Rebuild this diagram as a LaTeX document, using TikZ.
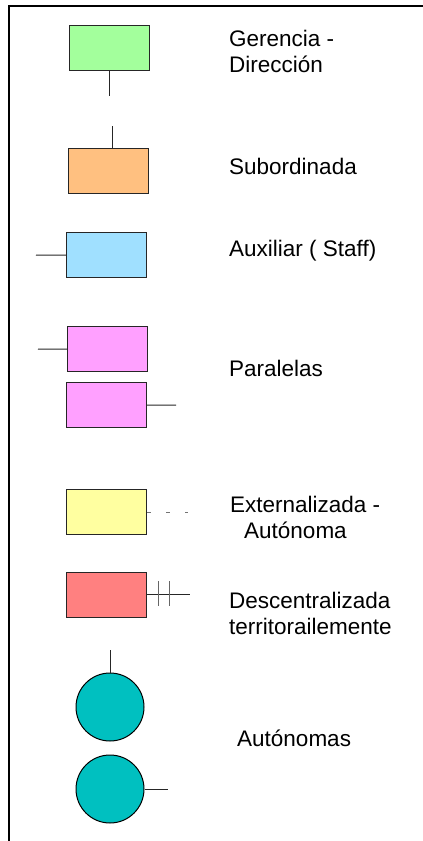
\documentclass[tikz,border=0pt]{standalone}
\usepackage{fontspec}
\setmainfont{Liberation Sans}
\begin{document}
\begin{tikzpicture}[x=1pt,y=-1pt,
  unitbox/.style={draw=black!85,line width=1.2pt,minimum width=80pt,minimum height=45pt,inner sep=0pt,anchor=north west},
  unitcirc/.style={circle,draw=black,line width=1pt,minimum size=68pt,inner sep=0pt},
  conn/.style={draw=black!85,line width=1pt},
  label/.style={anchor=base west,inner sep=0pt,font=\fontsize{22.5}{26}\selectfont,text=black},
  frame/.style={draw=black,line width=2pt}]
\useasboundingbox (0,0) rectangle (423,841);
% frame
\coordinate (fA) at (9,841);
\coordinate (fB) at (9,6);
\coordinate (fC) at (423,6);
\draw[frame] (fA) -- (fB) -- (fC);
% boxes
\node[unitbox,fill={rgb,255:red,163;green,255;blue,156}] (ger) at (69,25) {};
\node[unitbox,fill={rgb,255:red,255;green,192;blue,128}] (sub) at (68,148) {};
\node[unitbox,fill={rgb,255:red,160;green,224;blue,255}] (aux) at (66,232) {};
\node[unitbox,fill={rgb,255:red,255;green,160;blue,255}] (par1) at (67,326) {};
\node[unitbox,fill={rgb,255:red,255;green,160;blue,255}] (par2) at (66,382) {};
\node[unitbox,fill={rgb,255:red,255;green,255;blue,160}] (ext) at (66,489) {};
\node[unitbox,fill={rgb,255:red,255;green,128;blue,128}] (des) at (66,572) {};
\node[unitcirc,fill={rgb,255:red,0;green,192;blue,192}] (aut1) at (110,707) {};
\node[unitcirc,fill={rgb,255:red,0;green,192;blue,192}] (aut2) at (110,789) {};
% connector ends
\coordinate (gerE) at (109,96);
\coordinate (subE) at (112,126);
\coordinate (auxE) at (36,255);
\coordinate (par1E) at (38,349);
\coordinate (par2E) at (176,405);
\coordinate (extE) at (188,512);
\coordinate (desE) at (190,594);
\coordinate (aut1E) at (110,650);
\coordinate (aut2E) at (168,789);
\coordinate (tk1a) at (158,581); \coordinate (tk1b) at (158,606);
\coordinate (tk2a) at (169,581); \coordinate (tk2b) at (169,606);
% connectors
\draw[conn] (ger.south -| gerE) -- (gerE);
\draw[conn] (sub.north -| subE) -- (subE);
\draw[conn] (aux.west) -- (auxE);
\draw[conn] (par1.west) -- (par1E);
\draw[conn] (par2.east) -- (par2E);
\draw[conn,draw=black!55,dash pattern=on 4pt off 15pt] (ext.east |- extE) -- (extE);
\draw[conn] (des.east |- desE) -- (desE);
\draw[conn,draw=black!60] (tk1a) -- (tk1b);
\draw[conn,draw=black!60] (tk2a) -- (tk2b);
\draw[conn] (aut1.north) -- (aut1E);
\draw[conn] (aut2.east) -- (aut2E);
% labels
\node[label] (tger1) at (229,46) {Gerencia -};
\node[label] (tger2) at (229,72) {Dirección};
\node[label] (tsub) at (229,174) {Subordinada};
\node[label] (taux) at (229,256) {Auxiliar ( Staff)};
\node[label] (tpar) at (229,376) {Paralelas};
\node[label] (text1) at (230,512) {Externalizada -};
\node[label] (text2) at (244,538) {Autónoma};
\node[label] (tdes1) at (229,608) {Descentralizada};
\node[label] (tdes2) at (229,634) {territorailemente};
\node[label] (taut) at (237,746) {Autónomas};
\end{tikzpicture}
\end{document}
